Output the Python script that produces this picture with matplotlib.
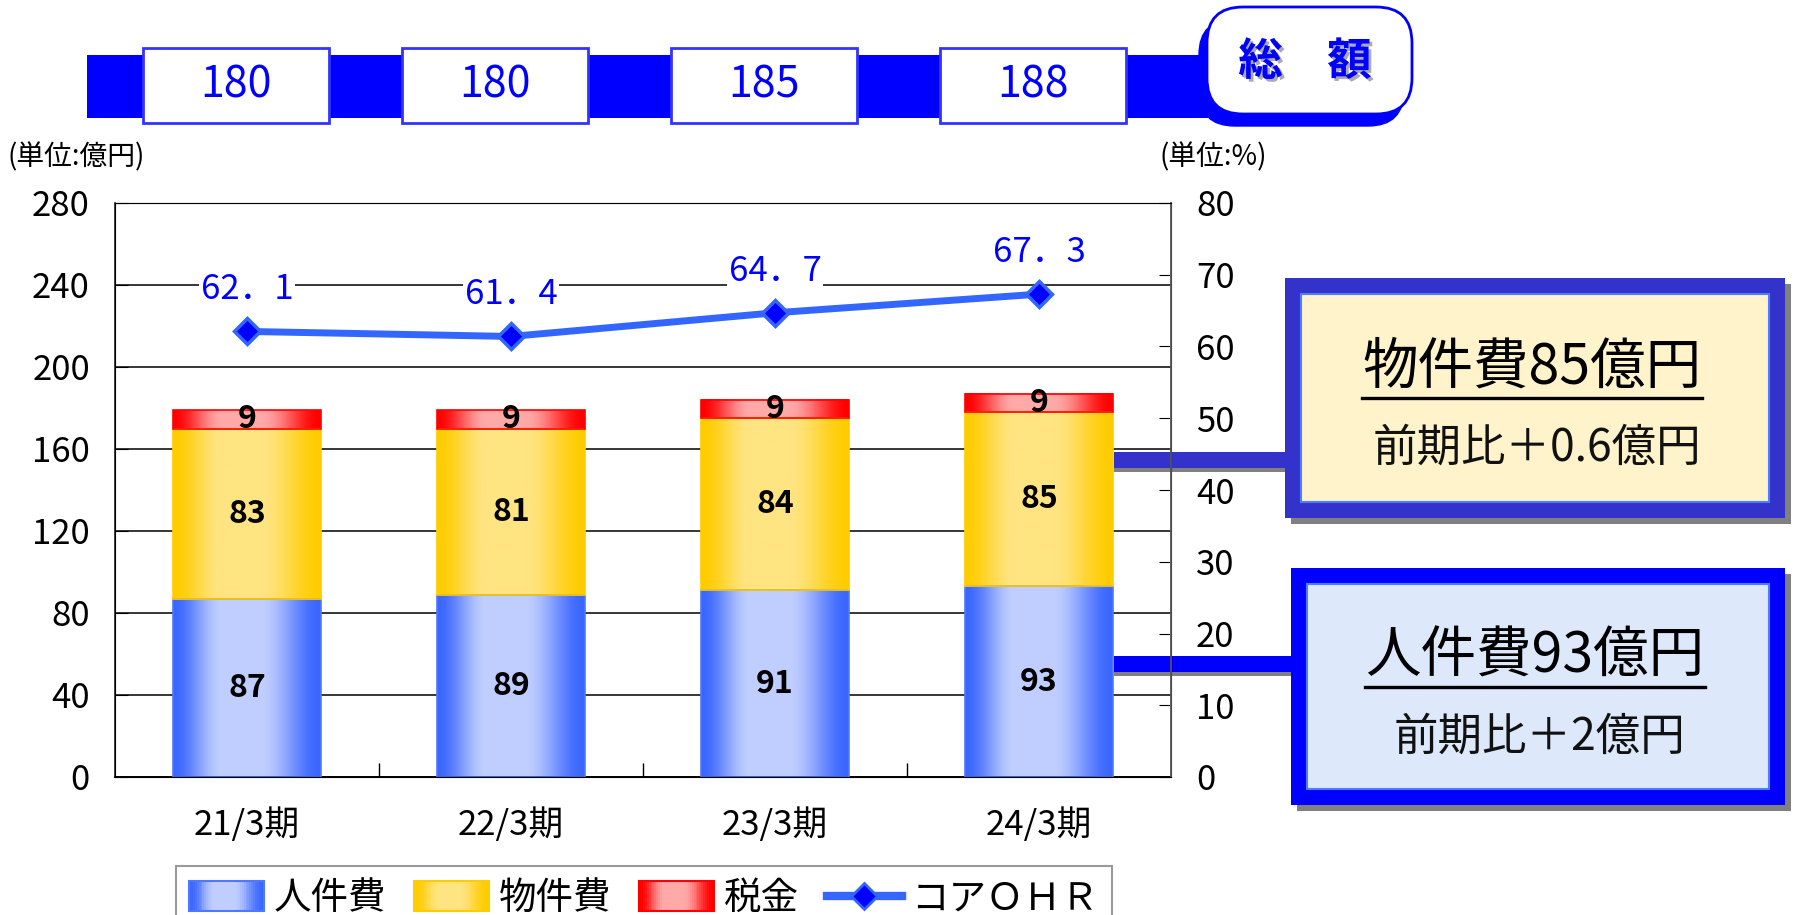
import matplotlib
matplotlib.use("Agg")
import matplotlib.pyplot as plt
import matplotlib.patheffects as pe
import numpy as np
from matplotlib.colors import to_rgb
from matplotlib.lines import Line2D
from matplotlib.patches import Rectangle, FancyBboxPatch
from matplotlib.legend_handler import HandlerBase

plt.rcParams['font.family'] = ['Noto Sans CJK JP', 'DejaVu Sans']

# data
periods = ['21/3期', '22/3期', '23/3期', '24/3期']
personnel = [87, 89, 91, 93]        # 人件費
nonpersonnel = [83, 81, 84, 85]     # 物件費
taxes = [9, 9, 9, 9]                # 税金
totals = [180, 180, 185, 188]       # 総額
core_ohr = [62.1, 61.4, 64.7, 67.3]  # コアOHR (%)
left_ticks = [0, 40, 80, 120, 160, 200, 240, 280]
right_ticks = [0, 10, 20, 30, 40, 50, 60, 70, 80]

W, H = 1796, 915


def fx(px):
    return px / W


def fy(py):
    return 1 - py / H


def gradient(edge, light, n=256):
    # bright in the middle-left, saturated at both edges
    t = np.linspace(0, 1, n)
    m = np.where(t < 0.45, t / 0.45, (1 - t) / 0.55)
    m = np.clip(m * 1.35, 0, 1)
    m = m * m * (3 - 2 * m)
    e = np.array(to_rgb(edge))
    l = np.array(to_rgb(light))
    return e[None, :] * (1 - m[:, None]) + l[None, :] * m[:, None]


class GradientHandler(HandlerBase):
    def __init__(self, edge, light, border):
        super().__init__()
        self.edge, self.light, self.border = edge, light, border

    def create_artists(self, legend, orig_handle, xdescent, ydescent,
                       width, height, fontsize, trans):
        cols = gradient(self.edge, self.light, 40)
        arts = []
        for k, c in enumerate(cols):
            arts.append(Rectangle((-xdescent + width * k / 40, -ydescent - 1),
                                  width / 40 * 1.1, height + 2, facecolor=c,
                                  edgecolor='none', transform=trans))
        arts.append(Rectangle((-xdescent, -ydescent - 1), width, height + 2,
                              facecolor='none', edgecolor=self.border,
                              lw=1.5, transform=trans))
        return arts


fig = plt.figure(figsize=(W / 100, H / 100), dpi=100)
ax = fig.add_axes([fx(115), fy(777), fx(1171) - fx(115), fy(203) - fy(777)])
ax.patch.set_visible(False)

x = np.arange(len(periods))
series = [
    (personnel, '#3A66FF', '#C0CEFF', '#4D78FF'),
    (nonpersonnel, '#FFCC00', '#FFE482', '#FFCC00'),
    (taxes, '#FF0000', '#FFA9A9', '#FF0000'),
]
bottom = np.zeros(len(x))
for vals, edge, light, border in series:
    bars = ax.bar(x, vals, 0.56, bottom=bottom, facecolor='none',
                  edgecolor=border, linewidth=1.2, zorder=3)
    cols = gradient(edge, light)
    for b, v in zip(bars, vals):
        ax.imshow(cols[None, :, :], aspect='auto', zorder=2, interpolation='bilinear',
                  extent=(b.get_x(), b.get_x() + b.get_width(),
                          b.get_y(), b.get_y() + b.get_height()))
        ax.text(b.get_x() + b.get_width() / 2, b.get_y() + b.get_height() / 2,
                str(v), ha='center', va='center',
                fontsize=23, fontweight='bold', color='black', zorder=5)
    bottom += np.array(vals)

ax.set_xlim(-0.5, len(x) - 0.5)
ax.set_ylim(0, 280)
ax.set_yticks(left_ticks)
ax.set_xticks(x, periods)
ax.set_xticks(x[:-1] + 0.5, minor=True)
ax.tick_params(axis='x', which='major', length=0, labelsize=25, pad=22)
ax.tick_params(axis='x', which='minor', direction='in', length=10, width=1)
ax.tick_params(axis='y', direction='in', length=9, labelsize=25, pad=18)
ax.set_axisbelow(True)
ax.grid(axis='y', color='black', linewidth=1.1)
ax.spines['top'].set_color('#888888')
ax.spines['left'].set_color('#333333')
ax.spines['left'].set_linewidth(1.3)
ax.spines['bottom'].set_linewidth(1.3)

ax2 = ax.twinx()
ax2.set_ylim(0, 80)
ax2.set_yticks(right_ticks)
ax2.tick_params(axis='y', direction='in', length=9, labelsize=25, pad=18)
ax2.spines['right'].set_color('#555555')
ax2.spines['right'].set_linewidth(1.3)
ax2.plot(x, core_ohr, color='#3366FF', lw=5, marker='D', markersize=13,
         markerfacecolor='#0000FF', markeredgecolor='#3366FF',
         markeredgewidth=2.5, zorder=4)
for xi, v in zip(x, core_ohr):
    ax2.annotate(f'{v:.1f}'.replace('.', '．'), (xi, v), xytext=(0, 30),
                 textcoords='offset points', ha='center', va='center',
                 fontsize=25, color='#0000FF',
                 bbox=dict(facecolor='white', edgecolor='none', pad=1))

fig.text(fx(8), fy(157), '(単位:億円)', fontsize=20, ha='left', va='center')
fig.text(fx(1160), fy(157), '(単位:%)', fontsize=20, ha='left', va='center')

# top banner with totals
fig.add_artist(Rectangle((fx(87), fy(118)), fx(1214) - fx(87), fy(55) - fy(118),
                         transform=fig.transFigure, facecolor='#0000FF',
                         edgecolor='none', zorder=1))
box_cx = [236, 495, 764, 1033]
for cx, t in zip(box_cx, totals):
    fig.add_artist(Rectangle((fx(cx - 93), fy(123)), fx(186), fy(48) - fy(123),
                             transform=fig.transFigure, facecolor='white',
                             edgecolor='#3333FF', lw=2, zorder=2))
    fig.text(fx(cx), fy(86), str(t), ha='center', va='center', fontsize=31,
             color='#0000FF', zorder=3)

fig.add_artist(FancyBboxPatch((fx(1199), fy(126)), fx(205), fy(19) - fy(126),
                              boxstyle='round,pad=0,rounding_size=0.02',
                              mutation_aspect=W / H,
                              transform=fig.transFigure, facecolor='#0000FF',
                              edgecolor='#0000FF', zorder=2))
fig.add_artist(FancyBboxPatch((fx(1207), fy(114)), fx(205), fy(7) - fy(114),
                              boxstyle='round,pad=0,rounding_size=0.02',
                              mutation_aspect=W / H,
                              transform=fig.transFigure, facecolor='white',
                              edgecolor='#0000FF', lw=2, zorder=3))
fig.text(fx(1305), fy(62), '総　額', ha='center', va='center', fontsize=32,
         fontweight='bold', color='#0000FF', zorder=4,
         path_effects=[pe.withSimplePatchShadow(offset=(2, -2),
                                                shadow_rgbFace='#AAAAAA', alpha=1)])

# callout boxes
callouts = [
    # connector y, box rect (x0, y0, x1, y1), border, fill, title, sub
    (460, (1285, 278, 1785, 518), '#3333CC', '#FFF3CC', '物件費85億円', '前期比＋0.6億円'),
    (664, (1291, 568, 1785, 805), '#0000FF', '#DDE8FB', '人件費93億円', '前期比＋2億円'),
]
renderer = fig.canvas.get_renderer()
for cy, (x0, y0, x1, y1), border, fill, title, sub in callouts:
    fig.add_artist(Rectangle((fx(1114), fy(cy + 12)), fx(x0 - 1114), fy(cy + 4) - fy(cy + 12),
                             transform=fig.transFigure, facecolor='#808080',
                             edgecolor='none', zorder=-1))
    fig.add_artist(Rectangle((fx(1114), fy(cy + 8)), fx(x0 - 1114), fy(cy - 8) - fy(cy + 8),
                             transform=fig.transFigure, facecolor=border,
                             edgecolor='none', zorder=-1))
    fig.add_artist(Rectangle((fx(x0 + 6), fy(y1 + 6)), fx(x1 - x0), fy(y0) - fy(y1),
                             transform=fig.transFigure, facecolor='#808080',
                             edgecolor='none', zorder=1))
    fig.add_artist(Rectangle((fx(x0), fy(y1)), fx(x1 - x0), fy(y0) - fy(y1),
                             transform=fig.transFigure, facecolor=border,
                             edgecolor='none', zorder=2))
    fig.add_artist(Rectangle((fx(x0 + 16), fy(y1 - 16)), fx(x1 - x0 - 32), fy(y0 + 16) - fy(y1 - 16),
                             transform=fig.transFigure, facecolor=fill,
                             edgecolor='#4D7CFF', lw=1.5, zorder=3))
    mx = (x0 + x1) / 2
    my = (y0 + y1) / 2
    t1 = fig.text(fx(mx - 3), fy(my - 30), title, ha='center', va='center',
                  fontsize=40, color='black', zorder=4)
    fig.text(fx(mx + 2), fy(my + 50), sub, ha='center', va='center',
             fontsize=32, color='#111111', zorder=4)
    bb = t1.get_window_extent(renderer)
    ul = fy(my - 30) - 30 / H
    fig.add_artist(Line2D([bb.x0 / W, bb.x1 / W], [ul, ul], transform=fig.transFigure,
                          color='black', lw=2.4, zorder=4))

# legend
h_person = Rectangle((0, 0), 1, 1)
h_nonper = Rectangle((0, 0), 1, 1)
h_tax = Rectangle((0, 0), 1, 1)
h_ohr = Line2D([], [], color='#3366FF', lw=6, marker='D', markersize=13,
               markerfacecolor='#0000FF', markeredgecolor='#3366FF', markeredgewidth=2)
leg = fig.legend([h_person, h_nonper, h_tax, h_ohr],
                 ['人件費', '物件費', '税金', 'コアＯＨＲ'],
                 loc='upper center', bbox_to_anchor=(fx(644), fy(866)), ncol=4,
                 fontsize=27, frameon=True, fancybox=False, edgecolor='#808080',
                 handlelength=2.0, handletextpad=0.25, columnspacing=0.75,
                 borderpad=0.35, borderaxespad=0,
                 handler_map={
                     h_person: GradientHandler('#3A66FF', '#C0CEFF', '#4D78FF'),
                     h_nonper: GradientHandler('#FFCC00', '#FFE482', '#FFCC00'),
                     h_tax: GradientHandler('#FF0000', '#FFA9A9', '#FF0000'),
                 })
leg.get_frame().set_linewidth(1.5)

fig.savefig('out.png', dpi=100)
